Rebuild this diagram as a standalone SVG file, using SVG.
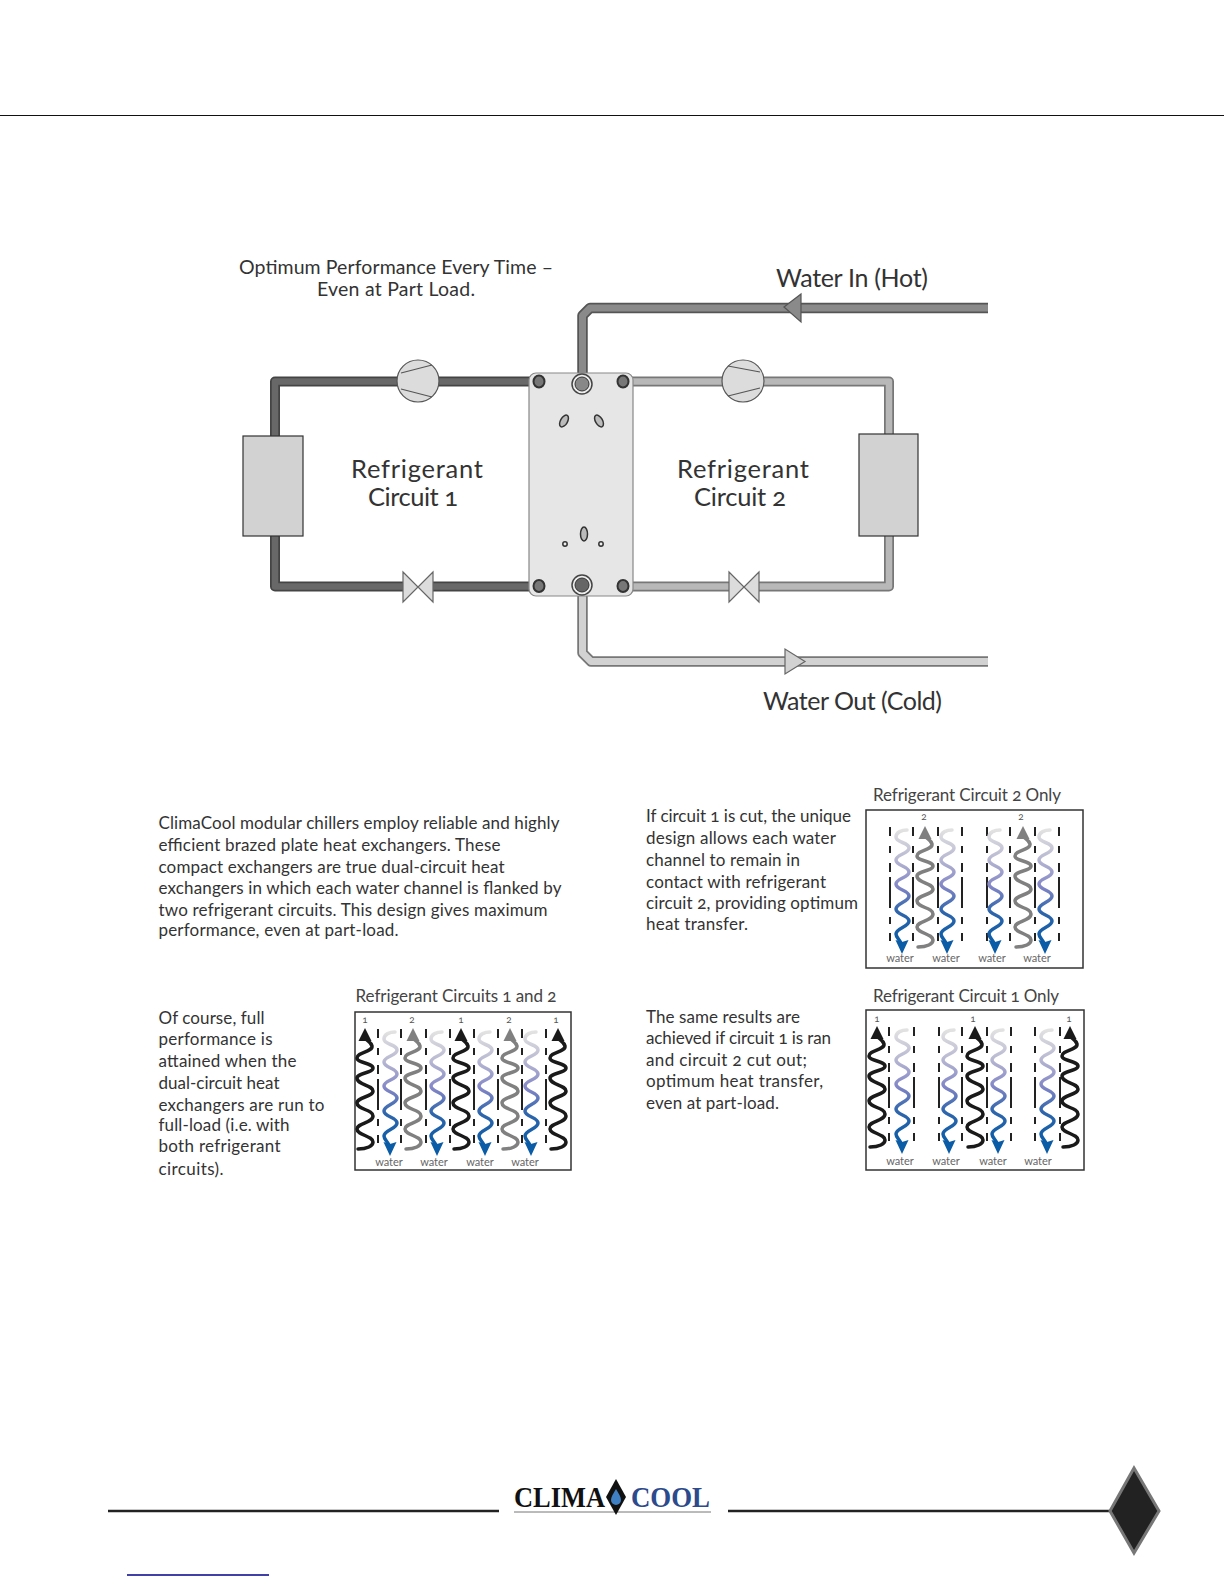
<svg xmlns="http://www.w3.org/2000/svg" width="1224" height="1584" viewBox="0 0 1224 1584">
<style>
text{font-family:"Lato","Open Sans","Liberation Sans",sans-serif;fill:#333;font-variant-numeric:oldstyle-nums}
.p{font-size:17px}
.t{font-size:17px;fill:#444}
.h{font-size:19.500px;fill:#333}
.big{font-size:25.500px;text-anchor:middle}
.w{font-size:25px}
.lab{font-size:11px;fill:#666;text-anchor:middle}
.num{font-size:10px;fill:#555;text-anchor:middle}
.box{fill:#fff;stroke:#333;stroke-width:1.5}
.dash{fill:none;stroke:#222;stroke-width:2}
.wv{fill:none;stroke-width:3.500;stroke-linecap:round}
.comp{fill:#dcdcdc;stroke:#555;stroke-width:1.2}
.valve{fill:#dcdcdc;stroke:#666;stroke-width:1.2}
.cond{fill:#d2d2d2;stroke:#333;stroke-width:1.2}
.port{fill:#777;stroke:#333;stroke-width:2}
.pipe{fill:none;stroke-linejoin:round}
</style>
<defs>
<linearGradient id="wg" x1="0" y1="0" x2="0" y2="1">
<stop offset="0" stop-color="#e2e2e2"/><stop offset=".25" stop-color="#b9b9d2"/><stop offset=".5" stop-color="#8286c6"/><stop offset=".72" stop-color="#2f66ac"/><stop offset="1" stop-color="#0a5ca6"/>
</linearGradient>
<path id="dc" class="dash" d="M0,17V26M0,36V43M0,53V62M0,67V98M0,107V114M0,123V131"/>
<g id="rw">
<path class="wv" stroke="currentColor" d="M-7,137C2,137 8,134 8,130C8,124 -8,123 -8,117C-8,111 8,111 8,104C8,97.500 -8,97.500 -8,91C-8,85 8,85 8,79C8,73 -8,73 -8,66C-8,61 8,61 8,56C8,51 -8,51 -8,46C-8,40 8,40 7,34C6,30 2,29 0,26"/>
<path fill="currentColor" d="M0,16L6.500,29L-6.500,29Z"/>
</g>
<g id="ww">
<path class="wv" stroke="url(#wg)" d="M5,20C0,20 -6,22 -6,27C-6,33 7,32 7,38C7,44 -6,44 -6,50C-6,56 7,56 7,62C7,68 -6,68 -6,74C-6,80 7,80 7,86C7,92 -6,93 -6,99C-6,105 7,105 7,111C7,117 -6,118 -6,124C-6,127 -3,129 -1,133"/>
<path fill="#0a5ca6" d="M0,144L-6.500,130L0,132L6.500,130Z"/>
</g>
</defs>
<rect width="1224" height="1584" fill="#fff"/>
<line x1="0" y1="115.500" x2="1224" y2="115.500" stroke="#111" stroke-width="1"/>

<g id="connectors">
<path class="pipe" stroke="#444" stroke-width="10" d="M535,381.500H275V586.500H535"/>
<path class="pipe" stroke="#686868" stroke-width="6.500" d="M535,381.500H275V586.500H535"/>
<path class="pipe" stroke="#777" stroke-width="10" d="M625,381.500H889V586.500H625"/>
<path class="pipe" stroke="#b8b8b8" stroke-width="6.500" d="M625,381.500H889V586.500H625"/>
<path class="pipe" stroke="#555" stroke-width="10.500" d="M988,308H590L582.500,315.500V375"/>
<path class="pipe" stroke="#8a8a8a" stroke-width="7" d="M988,308H590L582.500,315.500V375"/>
<path class="pipe" stroke="#777" stroke-width="10.500" d="M582.500,594V653L591,661.500H988"/>
<path class="pipe" stroke="#d2d2d2" stroke-width="7" d="M582.500,594V653L591,661.500H988"/>
<path fill="#8a8a8a" stroke="#555" stroke-width="1.200" d="M784,307L801,294V322Z"/>
<path fill="#d2d2d2" stroke="#666" stroke-width="1.200" d="M805,661.500L785,649V674Z"/>
</g>

<g id="plate">
<rect x="529" y="373" width="104" height="223" rx="7" fill="#e6e6e6" stroke="#888" stroke-width="1.200"/>
<g fill="#bbb" stroke="#333" stroke-width="1.500">
<ellipse cx="564" cy="421" rx="3.500" ry="6.500" transform="rotate(30 564 421)"/>
<ellipse cx="599" cy="421" rx="3.500" ry="6.500" transform="rotate(-30 599 421)"/>
<ellipse cx="584" cy="534" rx="3.500" ry="7"/>
<circle cx="565" cy="544" r="2.200" fill="#eee"/>
<circle cx="601" cy="544" r="2.200" fill="#eee"/>
</g>
<g class="port"><ellipse cx="539" cy="381.500" rx="5.500" ry="6"/><ellipse cx="623" cy="381.500" rx="5.500" ry="6"/><ellipse cx="539" cy="586" rx="5.500" ry="6"/><ellipse cx="623" cy="586" rx="5.500" ry="6"/></g>
<circle cx="582" cy="384" r="10" fill="#eee" stroke="#444" stroke-width="1.500"/><circle cx="582" cy="384" r="7" fill="#888" stroke="#333"/>
<circle cx="582" cy="585" r="10" fill="#eee" stroke="#444" stroke-width="1.500"/><circle cx="582" cy="585" r="7" fill="#666" stroke="#333"/>
</g>

<g id="comp1" transform="translate(418,381)"><circle r="21" class="comp"/><path d="M-17,-8L14,-16M-17,8L14,16" stroke="#555" stroke-width="1.200" fill="none"/></g>
<g id="comp2" transform="translate(743,381)"><circle r="21" class="comp"/><path d="M-15,-15L17,-9M-15,15L17,7" stroke="#555" stroke-width="1.200" fill="none"/></g>
<g id="valve1" transform="translate(418,587)"><rect x="-15" y="-7" width="30" height="14" fill="#fff"/><path class="valve" d="M-15,-15L0,0L-15,15Z"/><path class="valve" d="M15,-15L0,0L15,15Z"/></g>
<g id="valve2" transform="translate(744,587)"><rect x="-15" y="-7" width="30" height="14" fill="#fff"/><path class="valve" d="M-15,-15L0,0L-15,15Z"/><path class="valve" d="M15,-15L0,0L15,15Z"/></g>
<g id="cond1"><rect class="cond" x="243" y="436" width="60" height="100"/></g>
<g id="cond2"><rect class="cond" x="859" y="434" width="59" height="102"/></g>

<g id="main-text">
<text x="239" y="274" class="h" textLength="314">Optimum Performance Every Time –</text>
<text x="317" y="296" class="h" textLength="158">Even at Part Load.</text>
<text x="417" y="478" class="big" textLength="132">Refrigerant</text>
<text x="413" y="506" class="big" textLength="90">Circuit 1</text>
<text x="743" y="478" class="big" textLength="132">Refrigerant</text>
<text x="740" y="506" class="big" textLength="92">Circuit 2</text>
<text x="776" y="287" class="w" textLength="152">Water In (Hot)</text>
<text x="763" y="710" class="w" textLength="179">Water Out (Cold)</text>
</g>

<g id="para1">
<text class="p" x="158.500" y="829" textLength="401">ClimaCool modular chillers employ reliable and highly</text>
<text class="p" x="158.500" y="851" textLength="342">efficient brazed plate heat exchangers. These</text>
<text class="p" x="158.500" y="873" textLength="346">compact exchangers are true dual-circuit heat</text>
<text class="p" x="158.500" y="894" textLength="403">exchangers in which each water channel is flanked by</text>
<text class="p" x="158.500" y="916" textLength="389">two refrigerant circuits. This design gives maximum</text>
<text class="p" x="158.500" y="936" textLength="240">performance, even at part-load.</text>
</g>
<g id="para2">
<text class="p" x="646" y="822" textLength="205">If circuit 1 is cut, the unique</text>
<text class="p" x="646" y="844" textLength="190">design allows each water</text>
<text class="p" x="646" y="866" textLength="154">channel to remain in</text>
<text class="p" x="646" y="888" textLength="180">contact with refrigerant</text>
<text class="p" x="646" y="909" textLength="212">circuit 2, providing optimum</text>
<text class="p" x="646" y="930" textLength="102">heat transfer.</text>
</g>
<g id="para3">
<text class="p" x="158.500" y="1024" textLength="106">Of course, full</text>
<text class="p" x="158.500" y="1045" textLength="114">performance is</text>
<text class="p" x="158.500" y="1067" textLength="138">attained when the</text>
<text class="p" x="158.500" y="1089" textLength="121">dual-circuit heat</text>
<text class="p" x="158.500" y="1111" textLength="166">exchangers are run to</text>
<text class="p" x="158.500" y="1131" textLength="131">full-load (i.e. with</text>
<text class="p" x="158.500" y="1152" textLength="122">both refrigerant</text>
<text class="p" x="158.500" y="1175" textLength="65">circuits).</text>
</g>
<g id="para4">
<text class="p" x="646" y="1023" textLength="154">The same results are</text>
<text class="p" x="646" y="1044" textLength="185">achieved if circuit 1 is ran</text>
<text class="p" x="646" y="1066" textLength="161">and circuit 2 cut out;</text>
<text class="p" x="646" y="1087" textLength="177">optimum heat transfer,</text>
<text class="p" x="646" y="1109" textLength="133">even at part-load.</text>
</g>

<g id="panel-both" transform="translate(355,1012)">
<rect class="box" width="216" height="158"/>
<use href="#dc" x="23"/><use href="#dc" x="46"/><use href="#dc" x="71"/><use href="#dc" x="95"/><use href="#dc" x="119"/><use href="#dc" x="143"/><use href="#dc" x="167"/><use href="#dc" x="191"/>
<use href="#rw" x="10" color="#1a1a1a"/><use href="#rw" x="58" color="#808080"/><use href="#rw" x="106" color="#1a1a1a"/><use href="#rw" x="155" color="#808080"/><use href="#rw" x="203" color="#1a1a1a"/>
<use href="#ww" x="35"/><use href="#ww" x="82"/><use href="#ww" x="130"/><use href="#ww" x="176"/>
<text class="num" x="10" y="11">1</text><text class="num" x="57" y="11">2</text><text class="num" x="106" y="11">1</text><text class="num" x="154" y="11">2</text><text class="num" x="201" y="11">1</text>
<text class="lab" x="34" y="154">water</text><text class="lab" x="79" y="154">water</text><text class="lab" x="125" y="154">water</text><text class="lab" x="170" y="154">water</text>
</g>
<text class="t" x="355.500" y="1002" textLength="201">Refrigerant Circuits 1 and 2</text>

<g id="panel-2" transform="translate(866,810)">
<rect class="box" width="217" height="158"/>
<use href="#dc" x="24"/><use href="#dc" x="47"/><use href="#dc" x="72"/><use href="#dc" x="96"/><use href="#dc" x="121"/><use href="#dc" x="144"/><use href="#dc" x="169"/><use href="#dc" x="193"/>
<use href="#rw" x="59" color="#808080"/><use href="#rw" x="157" color="#808080"/>
<use href="#ww" x="36"/><use href="#ww" x="81"/><use href="#ww" x="129"/><use href="#ww" x="179"/>
<text class="num" x="58" y="10">2</text><text class="num" x="155" y="10">2</text>
<text class="lab" x="34" y="152">water</text><text class="lab" x="80" y="152">water</text><text class="lab" x="126" y="152">water</text><text class="lab" x="171" y="152">water</text>
</g>
<text class="t" x="873" y="801" textLength="188">Refrigerant Circuit 2 Only</text>

<g id="panel-1" transform="translate(866,1010)">
<rect class="box" width="218" height="160"/>
<use href="#dc" x="23"/><use href="#dc" x="48"/><use href="#dc" x="73"/><use href="#dc" x="96"/><use href="#dc" x="121"/><use href="#dc" x="145"/><use href="#dc" x="169"/><use href="#dc" x="194"/>
<use href="#rw" x="11" color="#1a1a1a"/><use href="#rw" x="109" color="#1a1a1a"/><use href="#rw" x="204" color="#1a1a1a"/>
<use href="#ww" x="36"/><use href="#ww" x="83"/><use href="#ww" x="132"/><use href="#ww" x="181"/>
<text class="num" x="11" y="12">1</text><text class="num" x="107" y="12">1</text><text class="num" x="203" y="12">1</text>
<text class="lab" x="34" y="155">water</text><text class="lab" x="80" y="155">water</text><text class="lab" x="127" y="155">water</text><text class="lab" x="172" y="155">water</text>
</g>
<text class="t" x="873" y="1002" textLength="186">Refrigerant Circuit 1 Only</text>

<g id="footer">
<line x1="108" y1="1511" x2="499" y2="1511" stroke="#222" stroke-width="2.500"/>
<line x1="728" y1="1511" x2="1112" y2="1511" stroke="#222" stroke-width="2.500"/>
<path d="M1134,1468L1159,1511L1134,1553L1110,1511Z" fill="#222" stroke="#777" stroke-width="3"/>
<line x1="127" y1="1575" x2="269" y2="1575" stroke="#00008b" stroke-width="1.500"/>
</g>
<g id="logo">
<text x="514" y="1507" textLength="91" lengthAdjust="spacingAndGlyphs" style="font-family:'Liberation Serif',serif;font-size:30px;font-weight:bold;fill:#111">CLIMA</text>
<text x="631" y="1507" textLength="79" lengthAdjust="spacingAndGlyphs" style="font-family:'Liberation Serif',serif;font-size:30px;font-weight:bold;fill:#2c4a8c">COOL</text>
<line x1="514" y1="1512" x2="711" y2="1512" stroke="#777" stroke-width="1"/>
<path d="M616,1479L626,1497L616,1515L606,1497Z" fill="#111"/>
<path d="M616,1489C619,1494 621,1497 621,1500A5,5 0 0 1 611,1500C611,1497 613,1494 616,1489Z" fill="#3f7fc4"/>
</g>
</svg>
